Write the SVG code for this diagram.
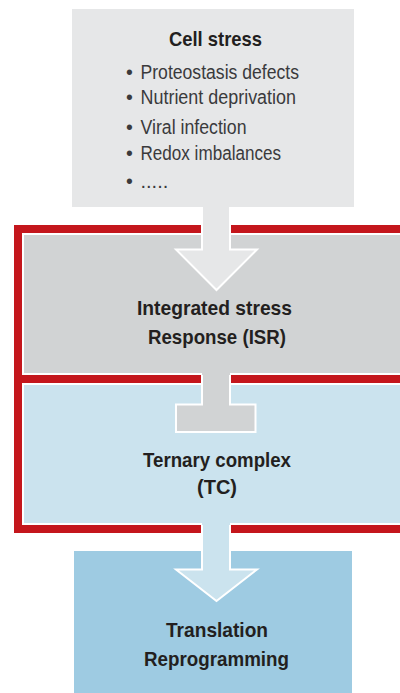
<svg xmlns="http://www.w3.org/2000/svg" width="400" height="693" viewBox="0 0 400 693">
<style>
.t{font-family:"Liberation Sans",Arial,sans-serif;fill:#231f20}
.b{font-weight:bold;font-size:21px}
.r{font-size:20px;fill:#3a3a3c}
.bul{font-family:"Liberation Sans",Arial,sans-serif;font-size:19.5px;fill:#3a3a3c;text-anchor:middle}
.edge{fill:none;stroke:#ffffff;stroke-width:2}
</style>
<rect width="400" height="693" fill="#ffffff"/>
<g id="isr-frame">
  <rect x="14" y="225" width="400" height="308" fill="#c4161c"/>
</g>
<g id="cell-stress">
  <rect x="72" y="9" width="282" height="198" fill="#e6e7e8"/>
  <text class="t b" x="169" y="45.5" textLength="93" lengthAdjust="spacingAndGlyphs">Cell stress</text>
  <text class="bul" x="129.5" y="79">•</text>
  <text class="t r" x="140.5" y="79" textLength="158.5" lengthAdjust="spacingAndGlyphs">Proteostasis defects</text>
  <text class="bul" x="129.5" y="104">•</text>
  <text class="t r" x="140.5" y="104" textLength="155.5" lengthAdjust="spacingAndGlyphs">Nutrient deprivation</text>
  <text class="bul" x="129.5" y="134">•</text>
  <text class="t r" x="140.5" y="134" textLength="106" lengthAdjust="spacingAndGlyphs">Viral infection</text>
  <text class="bul" x="129.5" y="160">•</text>
  <text class="t r" x="140.5" y="160" textLength="140.5" lengthAdjust="spacingAndGlyphs">Redox imbalances</text>
  <text class="bul" x="129.5" y="188">•</text>
  <text class="t r" x="140.5" y="188">.....</text>
</g>
<g id="isr">
  <rect x="23" y="234" width="400" height="140" fill="#d1d3d4" stroke="#ffffff" stroke-width="2"/>
  <text class="t b" x="137" y="315" textLength="155" lengthAdjust="spacingAndGlyphs">Integrated stress</text>
  <text class="t b" x="148" y="344" textLength="138" lengthAdjust="spacingAndGlyphs">Response (ISR)</text>
</g>
<g id="tc">
  <rect x="23" y="384" width="400" height="140" fill="#cbe3ee" stroke="#ffffff" stroke-width="2"/>
  <text class="t b" x="143" y="467" textLength="148" lengthAdjust="spacingAndGlyphs">Ternary complex</text>
  <text class="t b" x="197" y="494" textLength="40" lengthAdjust="spacingAndGlyphs">(TC)</text>
</g>
<g id="translation">
  <rect x="74" y="551" width="278" height="142" fill="#9ecbe2"/>
  <text class="t b" x="166" y="637" textLength="102" lengthAdjust="spacingAndGlyphs">Translation</text>
  <text class="t b" x="144" y="666" textLength="145" lengthAdjust="spacingAndGlyphs">Reprogramming</text>
</g>
<g id="connectors">
  <path d="M202,206 V249.5 H176 L216.5,290 L257,249.5 H230 V206 Z" fill="#e6e7e8"/>
  <path class="edge" d="M202,207 V249.5 H176 L216.5,290 L257,249.5 H230 V207"/>
  <path d="M202,372 V404.5 H176 V432 H255.5 V404.5 H230 V372 Z" fill="#d1d3d4"/>
  <path class="edge" d="M202,375 V404.5 H176 V432 H255.5 V404.5 H230 V375"/>
  <path d="M202,522 V569.5 H176 L216.5,601 L257,569.5 H230 V522 Z" fill="#cbe3ee"/>
  <path class="edge" d="M202,525 V569.5 H176 L216.5,601 L257,569.5 H230 V525"/>
</g>
</svg>
